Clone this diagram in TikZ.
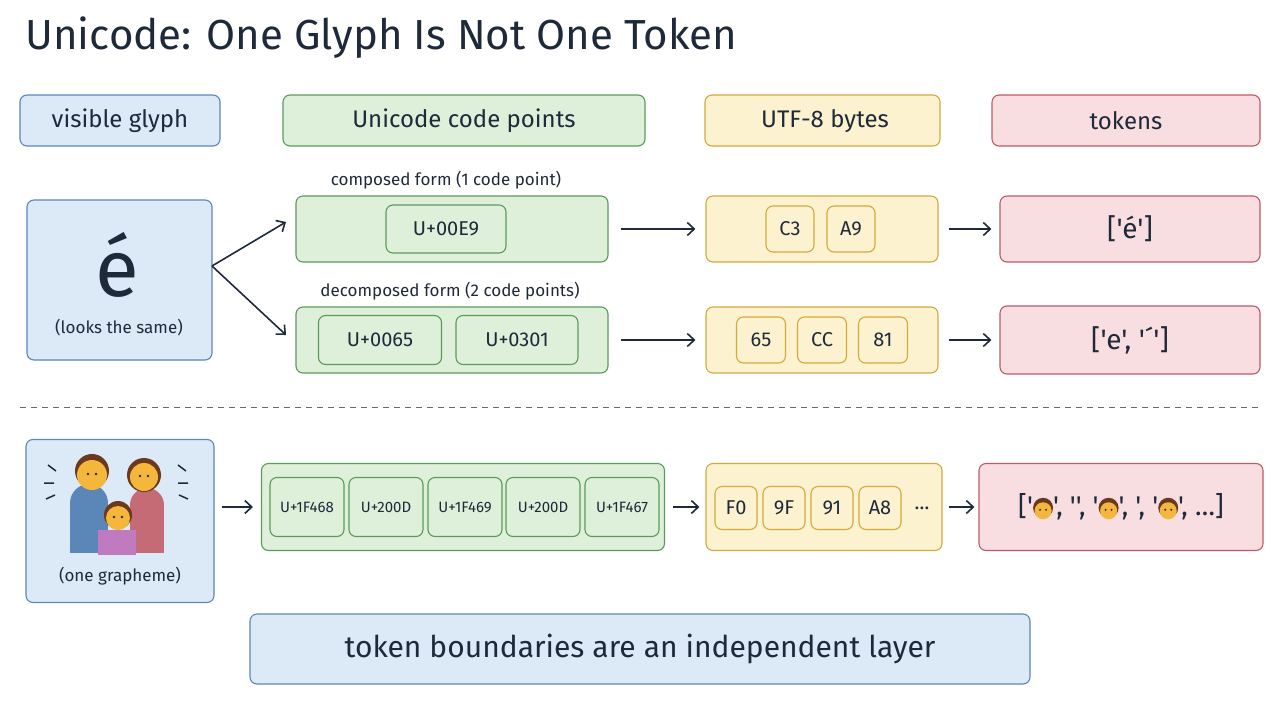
\documentclass[tikz,border=0pt]{standalone}
\usepackage{fontspec}
\setmainfont{Fira Sans}[Ligatures=TeXOff]
\usetikzlibrary{arrows.meta}
\definecolor{ink}{HTML}{1E2A3A}
\definecolor{bF}{HTML}{DCE9F7}\definecolor{bS}{HTML}{5B86B8}
\definecolor{gF}{HTML}{DFF0DA}\definecolor{gS}{HTML}{5A9A5A}
\definecolor{yF}{HTML}{FDF2CF}\definecolor{yS}{HTML}{D2A93A}
\definecolor{rF}{HTML}{F9DEE1}\definecolor{rS}{HTML}{BD5A66}
\definecolor{skin}{HTML}{F5B63C}\definecolor{hair}{HTML}{6B3A1E}
\definecolor{kid}{HTML}{C07BC0}
\newcommand{\q}{'}
\newcommand{\myface}{\tikz[baseline=-6pt]{\fill[hair](0,-2)circle(10);\fill[skin](0,1)circle(8.5);\fill[ink](-3,0)circle(1.1);\fill[ink](3,0)circle(1.1);}}
\tikzset{
 box/.style={draw, rounded corners=7, line width=1.1pt, inner sep=0, text=ink},
 bb/.style={box, fill=bF, draw=bS}, gb/.style={box, fill=gF, draw=gS},
 yb/.style={box, fill=yF, draw=yS}, rb/.style={box, fill=rF, draw=rS},
 arr/.style={-{Straight Barb[length=7pt,width=13pt,line width=1.6pt]}, line width=1.6pt, draw=ink},
 hdr/.style={font=\fontsize{24}{28}\selectfont},
 lab/.style={font=\fontsize{20}{24}\selectfont, text=ink},
 small/.style={font=\fontsize{17}{20}\selectfont, text=ink},
}
\begin{document}
\begin{tikzpicture}[x=1pt,y=-1pt]
\useasboundingbox (0,0) rectangle (1280,720);
\node[anchor=west, text=ink, font=\fontsize{42}{46}\selectfont\mdseries] (title) at (22,38) {Unicode: One Glyph Is Not One Token};
% headers
\draw[bb] (20,95) rectangle (220,146); \node[hdr,text=ink] (h1) at (120,121) {visible glyph};
\draw[gb] (283,95) rectangle (645,146); \node[hdr,text=ink] (h2) at (464,121) {Unicode code points};
\draw[yb] (705,95) rectangle (940,146); \node[hdr,text=ink] (h3) at (825,121) {UTF-8 bytes};
\draw[rb] (992,95) rectangle (1260,146); \node[hdr,text=ink] (h4) at (1126,121) {tokens};
% e box
\draw[bb] (27,200) rectangle (212,360);
\node[text=ink, font=\fontsize{80}{90}\selectfont] (e) at (117,265) {é};
\node[small] (same) at (119,328) {(looks the same)};
\coordinate (eo) at (212,266);
% composed
\node[small] (cl) at (446,180) {composed form (1 code point)};
\node[gb, minimum width=312, minimum height=66] (c1) at (452,229) {};
\node[gb, minimum width=120, minimum height=48, lab] (u1) at (446,229) {U+00E9};
\node[small] (dl) at (450,291) {decomposed form (2 code points)};
\node[gb, minimum width=312, minimum height=66] (c2) at (452,340) {};
\node[gb, minimum width=123, minimum height=49, lab] (u2) at (380,340) {U+0065};
\node[gb, minimum width=122, minimum height=49, lab] (u3) at (517,340) {U+0301};
\coordinate (t1) at (286,222); \coordinate (t2) at (286,335);
\draw[arr] (eo) -- (t1); \draw[arr] (eo) -- (t2);
% bytes
\node[yb, minimum width=232, minimum height=66] (y1) at (822,229) {};
\node[yb, minimum width=48, minimum height=46, lab] (bc3) at (790,229) {C3};
\node[yb, minimum width=48, minimum height=46, lab] (ba9) at (851,229) {A9};
\node[yb, minimum width=232, minimum height=66] (y2) at (822,340) {};
\node[yb, minimum width=49, minimum height=46, lab] (b65) at (761,340) {65};
\node[yb, minimum width=49, minimum height=46, lab] (bcc) at (822,340) {CC};
\node[yb, minimum width=49, minimum height=46, lab] (b81) at (883,340) {81};
\draw[arr] ([xshift=12]c1.east) -- ([xshift=-10]y1.west);
\draw[arr] ([xshift=12]c2.east) -- ([xshift=-10]y2.west);
% tokens
\node[rb, minimum width=260, minimum height=66, font=\fontsize{28}{32}\selectfont] (r1) at (1130,229) {[\q é\q]};
\node[rb, minimum width=260, minimum height=68, font=\fontsize{28}{32}\selectfont] (r2) at (1130,340) {[\q e\q, \q\char"00B4\q]};
\draw[arr] ([xshift=10]y1.east) -- ([xshift=-8]r1.west);
\draw[arr] ([xshift=10]y2.east) -- ([xshift=-8]r2.west);
% dashed
\draw[ink!70, dash pattern=on 6pt off 5pt, line width=1pt] (20,407) -- (1260,407);
% family
\node[bb, minimum width=188, minimum height=163] (fam) at (120,521) {};
\begin{scope}[shift={(118,505)}]
 \fill[rS!90] (12,0) rectangle (46,48); \fill[rS!90] (29,0) circle (17);
 \fill[bS] (-48,-2) rectangle (-10,48); \fill[bS] (-29,-2) circle (19);
 \fill[hair] (26,-30) circle (17); \fill[skin] (26,-28) circle (14);
 \fill[hair] (-26,-34) circle (17); \fill[skin] (-26,-30) circle (15);
 \fill[kid] (-20,25) rectangle (18,50);
 \fill[hair] (0,10) circle (14); \fill[skin] (0,13) circle (12);
 \foreach \x/\y in {-30/-31,-22/-31,22/-29,30/-29,-4/12,4/12} \fill[ink] (\x,\y) circle (1.4);
 \draw[ink, line width=1.5pt] (-70,-40) -- (-62,-34) (-74,-22) -- (-64,-22) (-72,-6) -- (-63,-10)
   (60,-40) -- (68,-34) (70,-22) -- (60,-22) (70,-6) -- (61,-10);
\end{scope}
\node[small] (one) at (120,576) {(one grapheme)};
% row 3 code points
\node[gb, minimum width=403, minimum height=87] (c3) at (463,507) {};
\foreach \n/\x/\t in {p1/307/U+1F468, p2/386/U+200D, p3/465/U+1F469, p4/543/U+200D, p5/622/U+1F467}
  \node[gb, minimum width=74, minimum height=59, font=\fontsize{15}{18}\selectfont] (\n) at (\x,507) {\t};
\coordinate (fo) at (222,507);
\draw[arr] (fo) -- ([xshift=-8]c3.west);
\node[yb, minimum width=236, minimum height=87] (y3) at (824,507) {};
\foreach \n/\x/\t in {f0/736/F0, f9/784/9F, f91/832/91, fa8/880/A8}
  \node[yb, minimum width=42, minimum height=43, lab] (\n) at (\x,508) {\t};
\node[lab] (dots) at (922,508) {…};
\draw[arr] ([xshift=8]c3.east) -- ([xshift=-6]y3.west);
\node[rb, minimum width=284, minimum height=87, font=\fontsize{27}{30}\selectfont] (r3) at (1121,507)
 {[\q\myface\q, \q\q, \q\myface\q, \q, \q\myface\q, …]};
\draw[arr] ([xshift=6]y3.east) -- ([xshift=-4]r3.west);
% footer
\node[bb, minimum width=780, minimum height=70, font=\fontsize{30}{34}\selectfont] (foot) at (640,649) {token boundaries are an independent layer};
\end{tikzpicture}
\end{document}
